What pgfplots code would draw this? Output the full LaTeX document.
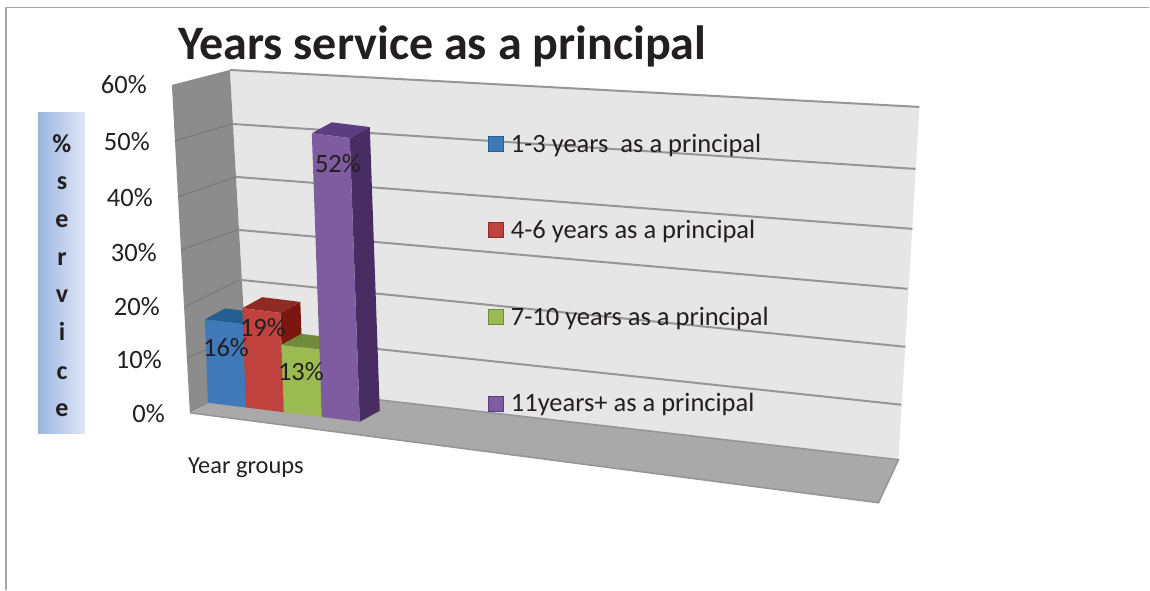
\documentclass[border=0pt]{standalone}
\usepackage{fontspec}
\setmainfont{Carlito}
\usepackage{pgfplots}
\pgfplotsset{compat=1.18}
\definecolor{ink}{HTML}{231F20}
\definecolor{wallL}{HTML}{8C8C8C}
\definecolor{wallB}{HTML}{E6E6E6}
\definecolor{floorc}{HTML}{A9A9A9}
\definecolor{gridc}{HTML}{969696}
\definecolor{bluef}{HTML}{4079B9}\definecolor{bluet}{HTML}{255E91}\definecolor{blues}{HTML}{1F4E7A}
\definecolor{redf}{HTML}{C0423E}\definecolor{redt}{HTML}{8E2B25}\definecolor{reds}{HTML}{7A1710}
\definecolor{greenf}{HTML}{9BBB52}\definecolor{greent}{HTML}{708C3A}\definecolor{greens}{HTML}{5F7A2E}
\definecolor{purpf}{HTML}{7F5CA0}\definecolor{purpt}{HTML}{5B3D80}\definecolor{purps}{HTML}{482D62}
\pgfplotsset{pixelframe/.style={
  at={(0pt,0pt)},anchor=south west,scale only axis,width=1150pt,height=590pt,
  xmin=0,xmax=1150,ymin=0,ymax=590,y dir=reverse,hide axis,clip=false}}
\newcommand\fs[1]{\fontsize{#1}{#1}\selectfont}
% one bar: start, end, percent, colours of front, side, top
\newcommand\drawbar[6]{%
  \addplot3[fill=#5,draw=none,no marks] coordinates {(#2,0,0) (#2,1,0) (#2,1,#3) (#2,0,#3) (#2,0,0)};
  \addplot3[fill=#6,draw=none,no marks] coordinates {(#1,0,#3) (#2,0,#3) (#2,1,#3) (#1,1,#3) (#1,0,#3)};
  \addplot3[fill=#4,draw=none,no marks] coordinates {(#1,0,0) (#2,0,0) (#2,0,#3) (#1,0,#3) (#1,0,0)};
}
\begin{document}
\begin{tikzpicture}
% ---- frame: walls, floor, gridlines
\begin{axis}[pixelframe]
\addplot[fill=white,draw=none,no marks] coordinates {(0,0) (1150,0) (1150,590) (0,590) (0,0)};
\addplot[draw={rgb,255:red,166;green,166;blue,166},line width=1.4pt,no marks] coordinates {(1150,7.5) (6,7.5) (6,590)};
\addplot[fill=wallB,draw=none,no marks] coordinates {(230,70) (920,107) (899,460) (248,385) (230,70)};
\addplot[fill=wallL,draw=none,no marks] coordinates {(172,85) (230,70) (248,385) (190,413) (172,85)};
\addplot[fill=floorc,draw=none,no marks] coordinates {(190,413) (248,385) (899,460) (879,503) (190,413)};
\addplot[draw=gridc,line width=1.6pt,no marks] coordinates {(190,413) (879,503) (899,460) (248,385)};
\addplot[draw=gridc,line width=2pt,no marks] coordinates {(230,70) (920,107)};
\addplot[draw=gridc,line width=2pt,no marks] coordinates {(232,124) (916,169)};
\addplot[draw=gridc,line width=2pt,no marks] coordinates {(236,177) (913,229)};
\addplot[draw=gridc,line width=2pt,no marks] coordinates {(238,230) (908,289)};
\addplot[draw=gridc,line width=2pt,no marks] coordinates {(240,280) (906,347)};
\addplot[draw=gridc,line width=2pt,no marks] coordinates {(244,335) (902,405)};
\addplot[draw={rgb,255:red,120;green,120;blue,120},line width=1pt,no marks] coordinates {(175,141) (232,124)};
\addplot[draw={rgb,255:red,120;green,120;blue,120},line width=1pt,no marks] coordinates {(178,197) (236,177)};
\addplot[draw={rgb,255:red,120;green,120;blue,120},line width=1pt,no marks] coordinates {(181,250) (238,230)};
\addplot[draw={rgb,255:red,120;green,120;blue,120},line width=1pt,no marks] coordinates {(185,307) (240,280)};
\addplot[draw={rgb,255:red,120;green,120;blue,120},line width=1pt,no marks] coordinates {(187,358) (244,335)};
\end{axis}
% ---- bars: category position, depth, percent
\begin{axis}[
  at={(208pt,187pt)},anchor=origin,
  x={(38pt,-4.75pt)},y={(20pt,11pt)},z={(-0.0352pt,1pt)},
  xmin=0,xmax=4,ymin=0,ymax=1,zmin=0,zmax=52,
  z coord trafo/.code={\pgfmathparse{5.1*#1+0.0069*(#1)*(#1)}\pgfmathresult},
  hide axis,clip=false]
\drawbar{0}{1}{16}{bluef}{blues}{bluet}
\drawbar{1}{2}{19}{redf}{reds}{redt}
\drawbar{2}{3}{13}{greenf}{greens}{greent}
\drawbar{3}{4}{52}{purpf}{purps}{purpt}
\end{axis}
% ---- texts and legend
\begin{axis}[pixelframe]
\shade[left color={rgb,255:red,155;green,181;blue,224},right color={rgb,255:red,223;green,231;blue,246}] (axis cs:38,113) rectangle (axis cs:85,434);
\node[anchor=base,text=ink,font=\fs{26}\bfseries] at (axis cs:62,153) {\%};
\node[anchor=base,text=ink,font=\fs{26}\bfseries] at (axis cs:62,190) {s};
\node[anchor=base,text=ink,font=\fs{26}\bfseries] at (axis cs:62,228) {e};
\node[anchor=base,text=ink,font=\fs{26}\bfseries] at (axis cs:62,266) {r};
\node[anchor=base,text=ink,font=\fs{26}\bfseries] at (axis cs:62,303) {v};
\node[anchor=base,text=ink,font=\fs{26}\bfseries] at (axis cs:62,341) {i};
\node[anchor=base,text=ink,font=\fs{26}\bfseries] at (axis cs:62,380) {c};
\node[anchor=base,text=ink,font=\fs{26}\bfseries] at (axis cs:62,417) {e};
\node[anchor=base west,inner sep=0pt,text=ink,font=\fs{48.1}\bfseries] at (axis cs:178,60) {Years service as a principal};
\node[anchor=base east,inner sep=0pt,text=ink,font=\fs{26.5}] at (axis cs:147,94) {60\%};
\node[anchor=base east,inner sep=0pt,text=ink,font=\fs{26.5}] at (axis cs:150,151) {50\%};
\node[anchor=base east,inner sep=0pt,text=ink,font=\fs{26.5}] at (axis cs:153,207) {40\%};
\node[anchor=base east,inner sep=0pt,text=ink,font=\fs{26.5}] at (axis cs:157,262) {30\%};
\node[anchor=base east,inner sep=0pt,text=ink,font=\fs{26.5}] at (axis cs:160,316) {20\%};
\node[anchor=base east,inner sep=0pt,text=ink,font=\fs{26.5}] at (axis cs:162,369) {10\%};
\node[anchor=base east,inner sep=0pt,text=ink,font=\fs{26.5}] at (axis cs:165,423) {0\%};
\node[anchor=base west,inner sep=0pt,text=ink,font=\fs{24.4}] at (axis cs:188,474) {Year groups};
\node[anchor=base west,inner sep=0pt,text=ink,font=\fs{26.5}] at (axis cs:203,357) {16\%};
\node[anchor=base west,inner sep=0pt,text=ink,font=\fs{26.5}] at (axis cs:240,337) {19\%};
\node[anchor=base west,inner sep=0pt,text=ink,font=\fs{26.5}] at (axis cs:278,381) {13\%};
\node[anchor=base west,inner sep=0pt,text=ink,font=\fs{26.5}] at (axis cs:315,173) {52\%};
\filldraw[fill=bluef,draw=bluet,line width=1pt] (axis cs:488.5,136.5) rectangle (axis cs:503.5,151.5);
\filldraw[fill=redf,draw=redt,line width=1pt] (axis cs:488.5,222.5) rectangle (axis cs:503.5,237.5);
\filldraw[fill=greenf,draw=greent,line width=1pt] (axis cs:488.5,309.5) rectangle (axis cs:503.5,324.5);
\filldraw[fill=purpf,draw=purpt,line width=1pt] (axis cs:488.5,396.5) rectangle (axis cs:503.5,411.5);
\node[anchor=base west,inner sep=0pt,text=ink,font=\fs{26.5}] at (axis cs:511,153) {1-3 years\ \ as a principal};
\node[anchor=base west,inner sep=0pt,text=ink,font=\fs{26.5}] at (axis cs:511,239) {4-6 years as a principal};
\node[anchor=base west,inner sep=0pt,text=ink,font=\fs{26.5}] at (axis cs:511,326) {7-10 years as a principal};
\node[anchor=base west,inner sep=0pt,text=ink,font=\fs{26.5}] at (axis cs:511,412) {11years+ as a principal};
\end{axis}
\end{tikzpicture}
\end{document}
